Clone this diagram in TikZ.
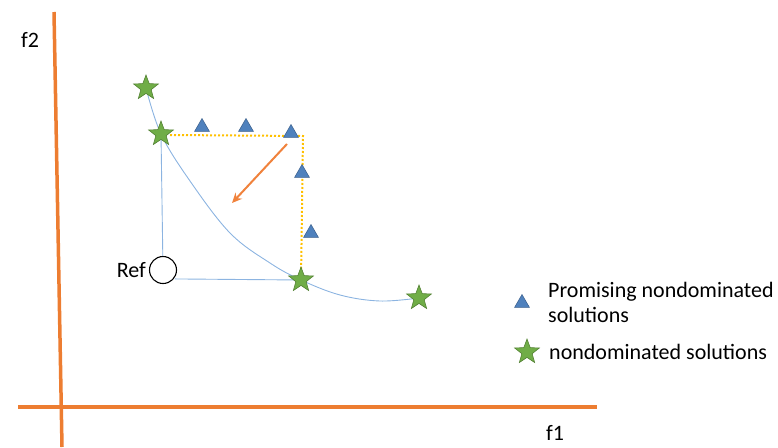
\documentclass[tikz,border=0pt]{standalone}
\usepackage{fontspec}
\setmainfont{Carlito}
\usetikzlibrary{shapes.geometric,arrows.meta}
\definecolor{axisorange}{RGB}{237,125,49}
\definecolor{arrorange}{RGB}{240,130,60}
\definecolor{gold}{RGB}{255,192,0}
\definecolor{starfill}{RGB}{112,173,71}
\definecolor{stardraw}{RGB}{84,130,53}
\definecolor{trifill}{RGB}{79,129,189}
\definecolor{tridraw}{RGB}{56,93,138}
\definecolor{curveblue}{RGB}{140,180,225}
\tikzset{
  x=1pt,y=-1pt,
  solstar/.style={star,star points=5,star point ratio=2.4,minimum size=26pt,inner sep=0pt,fill=starfill,draw=stardraw,line width=0.6pt},
  promtri/.style={regular polygon,regular polygon sides=3,minimum size=17pt,inner sep=0pt,fill=trifill,draw=tridraw,line width=0.5pt},
  axisline/.style={axisorange,line width=3.5pt},
  lbl/.style={font=\fontsize{22}{25}\selectfont,inner sep=0pt},
  bluelink/.style={curveblue,line width=0.9pt},
  gridline/.style={gold,dotted,line width=2pt},
}
\begin{document}
\begin{tikzpicture}
\useasboundingbox (0,0) rectangle (778,447);
% axes
\coordinate (ytop) at (54,12);
\coordinate (ybot) at (62,447);
\coordinate (xl) at (18,407);
\coordinate (xr) at (597,407);
\draw[axisline] (ytop) -- (ybot);
\draw[axisline] (xl) -- (xr);
\node[lbl] (f2) at (30,40) {f2};
\node[lbl] (f1) at (555,433) {f1};
% Ref
\node[circle,draw=black,line width=1.1pt,minimum size=27pt,inner sep=0pt,fill=white] (ref) at (163,270) {};
\node[lbl,anchor=east] (reflbl) at (146,270) {Ref};
% points
\coordinate (s1) at (146,88);
\coordinate (s2) at (161,134);
\coordinate (s3) at (301,280);
\coordinate (s4) at (419,298);
% curve
\draw[bluelink] plot[smooth,tension=0.6] coordinates {(s1) (s2) (190,181) (230,233) (270,263) (s3) (340,295) (380,301) (s4)};
% links from Ref
\draw[bluelink] (s2) -- (ref);
\draw[bluelink] (ref.south east) ++(2,-1) coordinate (rr) -- (s3);
% dotted box
\coordinate (corner) at (303,136);
\draw[gridline] (s2.center) ++(9,1) -- (corner) -- (s3);
% orange arrow
\coordinate (a1) at (287,144);
\coordinate (a2) at (232,203);
\draw[arrorange,line width=2pt,-{Stealth[length=10pt,width=9pt]}] (a1) -- (a2);
% stars
\node[solstar] (n1) at (s1) {};
\node[solstar] (n2) at (s2) {};
\node[solstar] (n3) at (s3) {};
\node[solstar] (n4) at (s4) {};
% triangles
\node[promtri] (t1) at (202,127) {};
\node[promtri] (t2) at (246,127) {};
\node[promtri] (t3) at (291,133) {};
\node[promtri] (t4) at (302,173) {};
\node[promtri] (t5) at (311,233) {};
% legend
\node[promtri] (lt) at (522,303) {};
\node[solstar] (ls) at (527,352) {};
\node[lbl,anchor=west,align=left] (leg1) at (548,302) {Promising nondominated\\solutions};
\node[lbl,anchor=west] (leg2) at (549,352) {nondominated solutions};
\end{tikzpicture}
\end{document}
